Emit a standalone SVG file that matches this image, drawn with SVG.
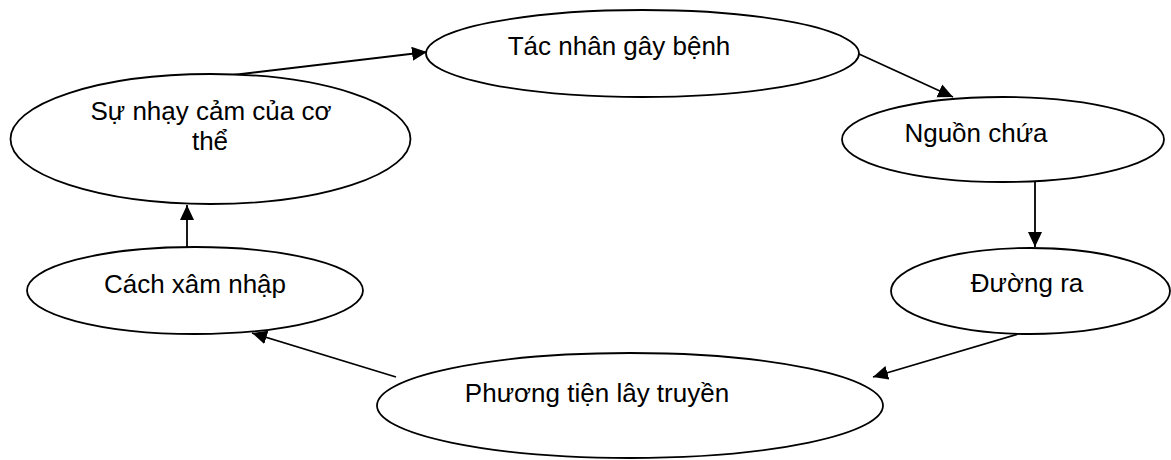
<svg xmlns="http://www.w3.org/2000/svg" width="1171" height="460" viewBox="0 0 1171 460">
  <style>
    .node ellipse { fill: #ffffff; stroke: #000000; stroke-width: 1.8; }
    .node text { font-family: "Liberation Sans", Arial, sans-serif; font-size: 26px; fill: #000000; text-anchor: middle; }
    .edge { stroke: #000000; stroke-width: 1.8; fill: none; marker-end: url(#arrow); }
  </style>
  <defs>
    <marker id="arrow" markerUnits="userSpaceOnUse" markerWidth="16" markerHeight="15" refX="15" refY="7" orient="auto">
      <path d="M0,0 L15,7 L0,14 z" fill="#000000"/>
    </marker>
  </defs>
  <rect width="1171" height="460" fill="#ffffff"/>
  <g id="connectors">
    <line class="edge" x1="233" y1="75" x2="427" y2="52"/>
    <line class="edge" x1="859" y1="54" x2="953" y2="97"/>
    <line class="edge" x1="1035" y1="182" x2="1035" y2="247"/>
    <line class="edge" x1="1018" y1="334" x2="873" y2="377"/>
    <line class="edge" x1="396" y1="377" x2="252" y2="333"/>
    <line class="edge" x1="187" y1="247" x2="187" y2="205"/>
  </g>
  <g id="node-tac-nhan" class="node">
    <ellipse cx="642.5" cy="53.5" rx="216.5" ry="43.5"/>
    <text x="619" y="55">Tác nhân gây bệnh</text>
  </g>
  <g id="node-nguon-chua" class="node">
    <ellipse cx="1003" cy="139.5" rx="161" ry="42.5"/>
    <text x="976" y="142">Nguồn chứa</text>
  </g>
  <g id="node-duong-ra" class="node">
    <ellipse cx="1030.5" cy="291" rx="139.5" ry="43"/>
    <text x="1027" y="292">Đường ra</text>
  </g>
  <g id="node-phuong-tien" class="node">
    <ellipse cx="630" cy="405.5" rx="253" ry="52.5"/>
    <text x="597" y="402">Phương tiện lây truyền</text>
  </g>
  <g id="node-cach-xam-nhap" class="node">
    <ellipse cx="195" cy="290.5" rx="168" ry="43.5"/>
    <text x="195" y="293">Cách xâm nhập</text>
  </g>
  <g id="node-su-nhay-cam" class="node">
    <ellipse cx="210.5" cy="139" rx="200" ry="65"/>
    <text x="211" y="120">Sự nhạy cảm của cơ</text>
    <text x="210" y="150">thể</text>
  </g>
</svg>
